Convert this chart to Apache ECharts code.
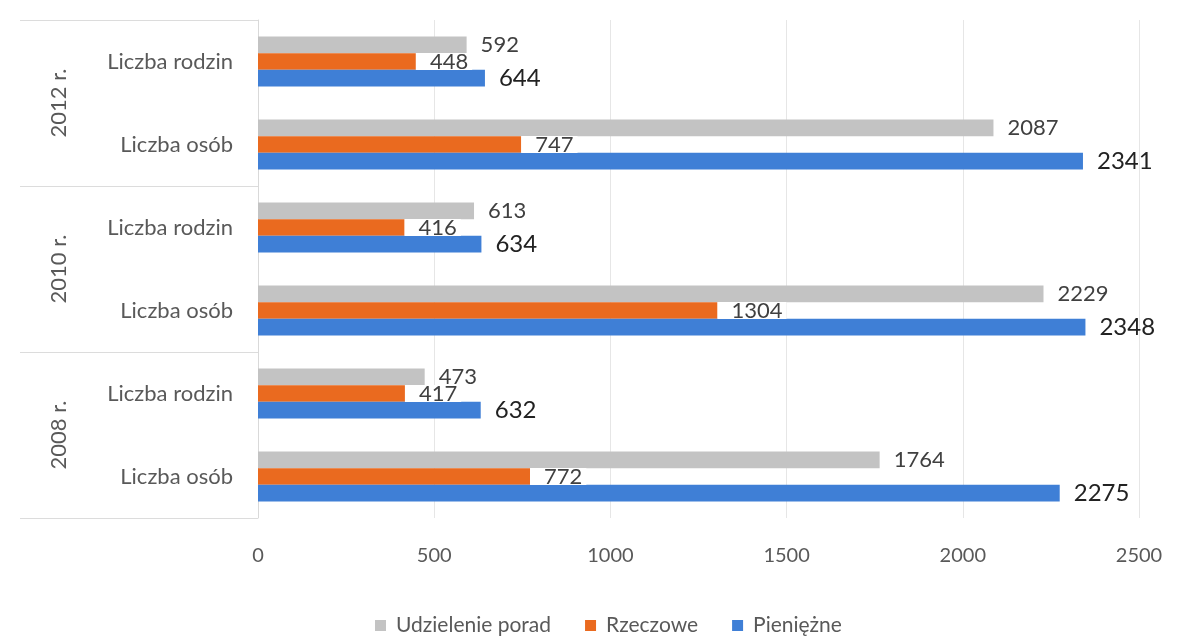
<!DOCTYPE html>
<html>
<head>
<meta charset="utf-8">
<script src="https://cdn.jsdelivr.net/npm/echarts@6/dist/echarts.min.js"></script>
<style>
  html, body { margin: 0; padding: 0; background: #fff; }
  #chart { width: 1190px; height: 642px; }
</style>
</head>
<body>
<div id="chart"></div>
<script>
// kategorie od dołu do góry
const categories = ['Liczba osób', 'Liczba rodzin', 'Liczba osób', 'Liczba rodzin', 'Liczba osób', 'Liczba rodzin']
const years = ['2008 r.', '2010 r.', '2012 r.']
const seriesNames = ['Udzielenie porad', 'Rzeczowe', 'Pieniężne']
const porady = [1764, 473, 2229, 613, 2087, 592]
const rzeczowe = [772, 417, 1304, 416, 747, 448]
const pieniezne = [2275, 632, 2348, 634, 2341, 644]
const xTicks = [0, 500, 1000, 1500, 2000, 2500]

const FONT = 'Lato'
const chart = echarts.init(document.getElementById('chart'))

const baseLabel = {
  show: true,
  position: 'right',
  distance: 14,
  fontFamily: FONT,
  fontSize: 22,
  color: '#404040'
}

chart.setOption({
  animation: false,
  textStyle: { fontFamily: FONT },
  grid: { left: 258, right: 51, top: 20, bottom: 124 },
  legend: {
    data: seriesNames,
    left: 370,
    top: 610,
    icon: 'rect',
    itemWidth: 11,
    itemHeight: 11,
    itemGap: 34,
    textStyle: { fontFamily: FONT, fontSize: 21, color: '#595959', padding: [0, 0, 0, 5] }
  },
  xAxis: {
    type: 'value',
    min: xTicks[0],
    max: xTicks[xTicks.length - 1],
    interval: 500,
    axisLine: { show: false },
    axisTick: { show: false },
    splitLine: { lineStyle: { color: '#e6e6e6' } },
    axisLabel: {
      margin: 28, fontSize: 20, color: '#595959', fontFamily: FONT,
      formatter: v => String(v)
    }
  },
  yAxis: [
    {
      type: 'category',
      data: categories,
      position: 'left',
      axisLine: { show: true, lineStyle: { color: '#d9d9d9' } },
      axisTick: { show: false },
      axisLabel: { margin: 25, fontSize: 22, color: '#595959', fontFamily: FONT }
    },
    {
      type: 'category',
      data: years,
      position: 'left',
      axisLine: { show: false },
      axisTick: { show: true, length: 238, lineStyle: { color: '#dcdcdc' } },
      axisLabel: { rotate: 90, margin: 188, fontSize: 22, color: '#595959', fontFamily: FONT }
    }
  ],
  series: [
    {
      name: seriesNames[0],
      type: 'bar',
      data: porady,
      barGap: 0,
      barCategoryGap: '40%',
      itemStyle: { color: '#c3c3c3' },
      label: baseLabel
    },
    {
      name: seriesNames[1],
      type: 'bar',
      data: rzeczowe,
      itemStyle: { color: '#ea6a1f' },
      label: Object.assign({}, baseLabel, {
        distance: 0,
        padding: [0, 4, 0, 14],
        lineHeight: 17,
        backgroundColor: '#fff'
      })
    },
    {
      name: seriesNames[2],
      type: 'bar',
      data: pieniezne,
      itemStyle: { color: '#3f7fd6' },
      label: Object.assign({}, baseLabel, { fontSize: 24, color: '#222' })
    }
  ]
})
</script>
</body>
</html>
